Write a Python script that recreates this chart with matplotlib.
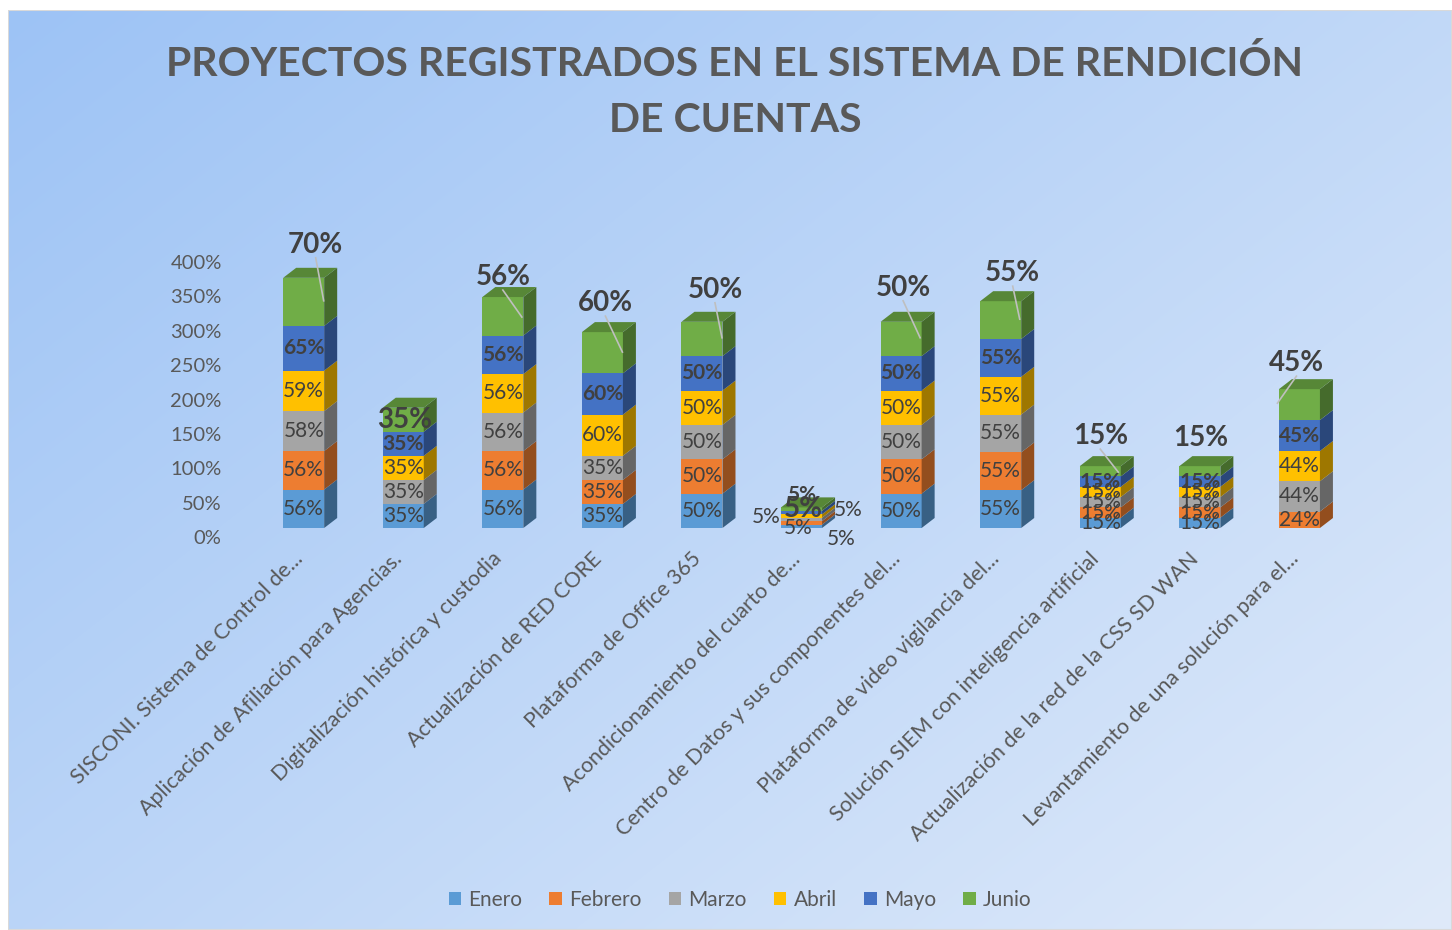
import numpy as np
import matplotlib
matplotlib.use("Agg")
import matplotlib.pyplot as plt
from matplotlib.patches import Polygon, Rectangle, Patch
from matplotlib.colors import to_rgb
from matplotlib.transforms import ScaledTranslation

plt.rcParams['font.family'] = ['Lato', 'DejaVu Sans']

# ---------------------------------------------------------------------------
# Datos (porcentajes)
# ---------------------------------------------------------------------------
categorias = [
    "SISCONI. Sistema de Control de...",
    "Aplicación de Afiliación para Agencias.",
    "Digitalización histórica y custodia",
    "Actualización de RED CORE",
    "Plataforma de Office 365",
    "Acondicionamiento del cuarto de...",
    "Centro de Datos y sus componentes del...",
    "Plataforma de video vigilancia del...",
    "Solución SIEM con inteligencia artificial",
    "Actualización de la red de la CSS SD WAN",
    "Levantamiento de una solución para el...",
]
enero = [56, 35, 56, 35, 50, 5, 50, 55, 15, 15, 0]
febrero = [56, 0, 56, 35, 50, 5, 50, 55, 15, 15, 24]
marzo = [58, 35, 56, 35, 50, 5, 50, 55, 15, 15, 44]
abril = [59, 35, 56, 60, 50, 5, 50, 55, 15, 15, 44]
mayo = [65, 35, 56, 60, 50, 5, 50, 55, 15, 15, 45]
junio = [70, 35, 56, 60, 50, 5, 50, 55, 15, 15, 45]

series = ["Enero", "Febrero", "Marzo", "Abril", "Mayo", "Junio"]
valores = [enero, febrero, marzo, abril, mayo, junio]
colores = ["#5B9BD5", "#ED7D31", "#A5A5A5", "#FFC000", "#4472C4", "#70AD47"]
ticks_y = [0, 50, 100, 150, 200, 250, 300, 350, 400]

GRIS_TEXTO = "#404040"
GRIS_EJES = "#595959"

# ---------------------------------------------------------------------------
# Figura y fondo degradado
# ---------------------------------------------------------------------------
W, H = 1452, 930
fig = plt.figure(figsize=(W / 100, H / 100), dpi=100)
fig.patch.set_facecolor("white")

bg = fig.add_axes([8 / W, 0, 1 - 8 / W, 1 - 10 / H], zorder=-10)
u = np.linspace(0, 1, 300)
v = np.linspace(0, 1, 200)
U, V = np.meshgrid(u, v)
t = (U * 0.55 + V * 0.45)
c0 = np.array([157, 195, 245]) / 255
c1 = np.array([223, 234, 250]) / 255
img = c0[None, None, :] * (1 - t[..., None]) + c1[None, None, :] * t[..., None]
bg.imshow(img, aspect="auto", extent=(0, 1, 0, 1), interpolation="bilinear")
bg.set_xlim(0, 1)
bg.set_ylim(0, 1)
bg.axis("off")
bg.add_patch(Rectangle((0, 0), 1, 1, transform=bg.transAxes, fill=False,
                       edgecolor="#d9d9d9", linewidth=1.5))

# ---------------------------------------------------------------------------
# Ejes principales
# ---------------------------------------------------------------------------
AX_L, AX_R, AX_TOP, AX_BOT = 230, 1400, 240, 528
ax = fig.add_axes([AX_L / W, 1 - AX_BOT / H, (AX_R - AX_L) / W, (AX_BOT - AX_TOP) / H])
ax.set_facecolor("none")
XLIM = (-0.74, 11.01)
YLIM = (0, 419)
ax.set_xlim(*XLIM)
ax.set_ylim(*YLIM)
sx = (AX_R - AX_L) / (XLIM[1] - XLIM[0])   # px por unidad x
sy = (AX_BOT - AX_TOP) / (YLIM[1] - YLIM[0])  # px por unidad y

ancho = 41 / sx
prof_x = 13 / sx
prof_y = 10 / sy


def oscurecer(c, f):
    r, g, b = to_rgb(c)
    return (r * f, g * f, b * f)


x = np.arange(len(categorias))

# desplazamientos (px) de etiquetas especiales en la barra de 5%
desp_5 = {0: (-3, -2), 1: (-35, 6), 2: (40, -20), 3: (47, 6), 4: (0, 18), 5: (2, 0)}

# posicion de la etiqueta de junio respecto al techo frontal (px)
desp_junio = [(12, 33), (1, -12), (0, 20), (3, 29), (13, 32), (2, 0),
              (2, 34), (12, 28), (0, 30), (1, 28), (-3, 26)]
# fin de la linea guia dentro del segmento verde (px), None = sin linea
guia_junio = [(20, -23), None, (19, -20), (20, -20), (20, -16), None,
              (19, -16), (19, -18), (18, -6), None, (-22, -14)]

for i, xc in enumerate(x):
    base = 0
    vals = [serie[i] for serie in valores]
    ultimo = max(k for k, val in enumerate(vals) if val > 0)
    for k, val in enumerate(vals):
        if val <= 0:
            continue
        y0, y1 = base, base + val
        xl, xr = xc - ancho / 2, xc + ancho / 2
        ax.add_patch(Rectangle((xl, y0), ancho, val, facecolor=colores[k],
                               edgecolor="none", zorder=2, clip_on=False))
        ax.add_patch(Polygon([(xr, y0), (xr + prof_x, y0 + prof_y),
                              (xr + prof_x, y1 + prof_y), (xr, y1)],
                             closed=True, facecolor=oscurecer(colores[k], 0.62),
                             edgecolor="none", zorder=2, clip_on=False))
        if k == ultimo:
            ax.add_patch(Polygon([(xl, y1), (xr, y1), (xr + prof_x, y1 + prof_y),
                                  (xl + prof_x, y1 + prof_y)],
                                 closed=True, facecolor=oscurecer(colores[k], 0.78),
                                 edgecolor="none", zorder=2, clip_on=False))

        # etiquetas de datos
        texto = f"{val}%"
        if k == 5:
            dx, dy = desp_junio[i]
            lx = xc + dx / sx
            ly = y1 + dy / sy
            if i == 5:
                dx, dy = desp_5[k]
                lx = xc + dx / sx
                ly = (y0 + y1) / 2 + dy / sy
            ax.text(lx, ly, texto, ha="center", va="center", fontsize=20,
                    fontweight="bold", color=GRIS_TEXTO, zorder=5, clip_on=False)
            if guia_junio[i] is not None:
                ex, ey = guia_junio[i]
                ax.plot([lx, xc + ex / sx], [ly - 13 / sy, y1 + ey / sy],
                        color="#bfbfbf", linewidth=1.2, zorder=4, clip_on=False)
        else:
            lx, ly = xc, (y0 + y1) / 2
            if i == 5:
                dx, dy = desp_5[k]
                lx = xc + dx / sx
                ly = ly + dy / sy
            ax.text(lx, ly, texto, ha="center", va="center", fontsize=15,
                    fontweight="bold" if k == 4 else "normal",
                    color=GRIS_TEXTO, zorder=5, clip_on=False)
        base = y1

# ejes
for s in ax.spines.values():
    s.set_visible(False)
ax.set_yticks(ticks_y)
ax.set_yticklabels([f"{tck}%" for tck in ticks_y])
ax.tick_params(axis="y", length=0, pad=6, labelsize=14.5, labelcolor=GRIS_EJES)
for lab in ax.get_yticklabels():
    lab.set_transform(lab.get_transform() + ScaledTranslation(0, -9 / 100, fig.dpi_scale_trans))

ax.set_xticks(x)
ax.set_xticklabels(categorias, rotation=45, ha="right", va="center",
                   rotation_mode="anchor")
ax.tick_params(axis="x", length=0, pad=20, labelsize=15.5, labelcolor=GRIS_EJES)
for lab in ax.get_xticklabels():
    lab.set_transform(lab.get_transform() + ScaledTranslation(-4 / 100, 0, fig.dpi_scale_trans))

# titulo
fig.text(735 / W, 1 - 92 / H,
         "PROYECTOS REGISTRADOS EN EL SISTEMA DE RENDICIÓN\nDE CUENTAS",
         ha="center", va="center", fontsize=29.5, fontweight="bold",
         color=GRIS_EJES, linespacing=1.65)

# leyenda
handles = [Patch(facecolor=c, edgecolor="none", label=s) for s, c in zip(series, colores)]
fig.legend(handles=handles, loc="center", bbox_to_anchor=(740 / W, 1 - 900 / H),
           ncol=6, frameon=False, fontsize=15, labelcolor=GRIS_EJES,
           handlelength=0.6, handleheight=0.6, handletextpad=0.35,
           columnspacing=1.3)

fig.savefig("out.png", dpi=100)
